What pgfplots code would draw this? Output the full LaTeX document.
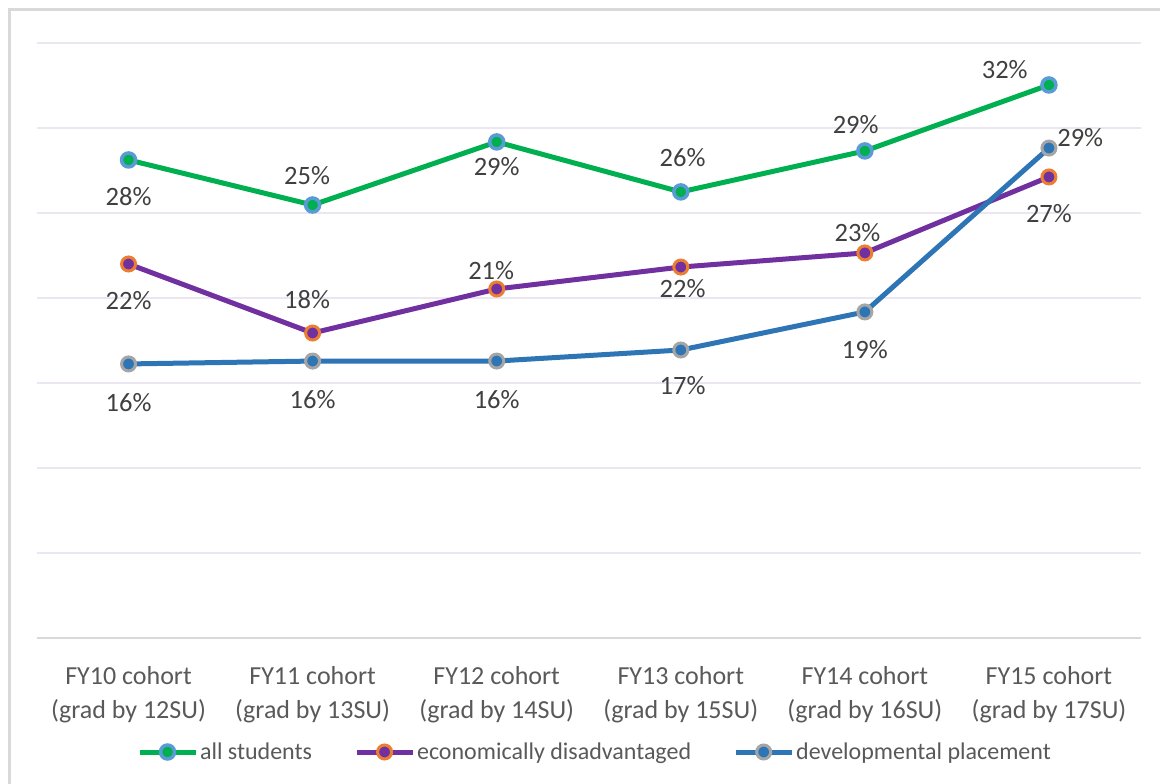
\documentclass[border=0pt]{standalone}
\usepackage{pgfplots}
\pgfplotsset{compat=1.18}
\usepackage{fontspec}
\setmainfont{Carlito}

\definecolor{allgreen}{RGB}{0,176,80}
\definecolor{allring}{RGB}{91,155,213}
\definecolor{econpurple}{RGB}{112,48,160}
\definecolor{econring}{RGB}{237,125,49}
\definecolor{devblue}{RGB}{46,117,182}
\definecolor{devring}{RGB}{165,165,165}
\definecolor{gridlav}{RGB}{235,230,242}
\definecolor{axisgray}{RGB}{217,217,217}
\definecolor{txtgray}{RGB}{89,89,89}
\definecolor{lblgray}{RGB}{64,64,64}

\begin{document}
\begin{tikzpicture}[x=1bp,y=1bp]
\path[use as bounding box] (0,0) rectangle (1160,784);
\draw[axisgray, line width=3bp] (9,0) -- (9,774) -- (1160,774);

\begin{axis}[
    at={(36.5bp,146bp)}, anchor=south west,
    scale only axis,
    width=1104.5bp, height=595bp,
    xmin=-0.5, xmax=5.5,
    ymin=0, ymax=35,
    clip=false,
    axis x line=bottom, axis y line=left,
    x axis line style={-, color=axisgray, line width=2.5bp},
    y axis line style={draw=none},
    major tick length=0,
    xtick={0,...,5},
    xticklabels={{FY10 cohort\\(grad by 12SU)},{FY11 cohort\\(grad by 13SU)},{FY12 cohort\\(grad by 14SU)},
                 {FY13 cohort\\(grad by 15SU)},{FY14 cohort\\(grad by 16SU)},{FY15 cohort\\(grad by 17SU)}},
    xticklabel style={align=center, text=txtgray, font=\fontsize{26bp}{34bp}\selectfont, inner sep=0pt, yshift=-28bp},
    ytick={5,10,...,35},
    yticklabels={},
    ymajorgrids,
    grid style={gridlav, line width=1.5bp},
    legend columns=3,
    legend style={at={(0.091,-0.1916)}, anchor=west, draw=none, fill=none,
        inner sep=0pt, outer sep=0pt, text=txtgray,
        font=\fontsize{24bp}{26bp}\selectfont,
        nodes={inner sep=2bp},
        /tikz/every even column/.append style={column sep=40bp}},
    legend image code/.code={\draw[mark repeat=2,mark phase=2,#1] plot coordinates {(0bp,0bp) (28bp,0bp) (56bp,0bp)};},
]
\addplot[allgreen, line width=5bp, mark=*, mark size=7bp, mark options={fill=allgreen, draw=allring, line width=3.5bp}] coordinates {
    (0,28.12) (1,25.47) (2,29.18) (3,26.24) (4,28.65) (5,32.53)
};
\addlegendentry{all students}
\addplot[econpurple, line width=5bp, mark=*, mark size=7bp, mark options={fill=econpurple, draw=econring, line width=3bp}] coordinates {
    (0,22.00) (1,17.94) (2,20.53) (3,21.82) (4,22.65) (5,27.12)
};
\addlegendentry{economically disadvantaged}
\addplot[devblue, line width=5bp, mark=*, mark size=7bp, mark options={fill=devblue, draw=devring, line width=3bp}] coordinates {
    (0,16.12) (1,16.29) (2,16.29) (3,16.94) (4,19.18) (5,28.82)
};
\addlegendentry{developmental placement}

% data labels
\tikzset{lbl/.style={text=lblgray, font=\fontsize{26.5bp}{30bp}\selectfont, inner sep=0pt}}
\node[lbl] at (axis cs:0,25.94) {28\%};
\node[lbl] at (axis cs:0.97,27.18) {25\%};
\node[lbl] at (axis cs:2.0,27.71) {29\%};
\node[lbl] at (axis cs:3.01,28.24) {26\%};
\node[lbl] at (axis cs:3.95,30.18) {29\%};
\node[lbl] at (axis cs:4.76,33.41) {32\%};

\node[lbl] at (axis cs:0,19.82) {22\%};
\node[lbl] at (axis cs:0.97,19.88) {18\%};
\node[lbl] at (axis cs:1.97,21.59) {21\%};
\node[lbl] at (axis cs:3.01,20.53) {22\%};
\node[lbl] at (axis cs:3.96,23.82) {23\%};
\node[lbl] at (axis cs:5.0,24.94) {27\%};

\node[lbl] at (axis cs:0,13.82) {16\%};
\node[lbl] at (axis cs:1.0,14.0) {16\%};
\node[lbl] at (axis cs:2.0,14.0) {16\%};
\node[lbl] at (axis cs:3.01,14.82) {17\%};
\node[lbl] at (axis cs:4.0,16.94) {19\%};
\node[lbl] at (axis cs:5.17,29.41) {29\%};
\end{axis}
\end{tikzpicture}
\end{document}
